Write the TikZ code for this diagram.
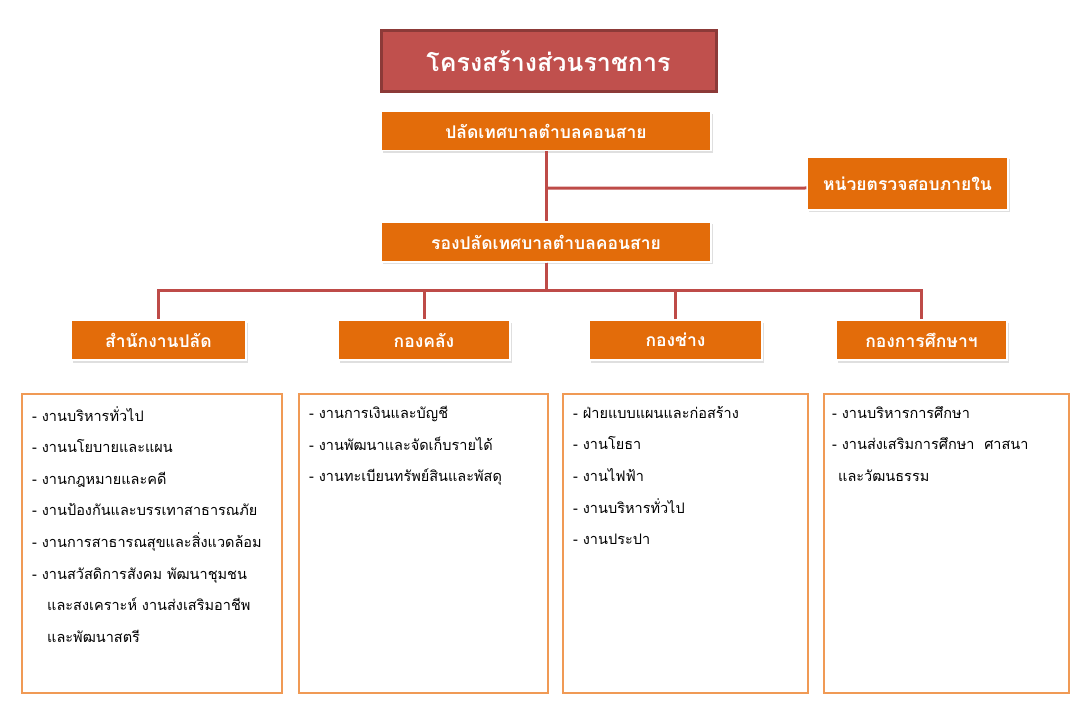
\documentclass[tikz,border=0pt]{standalone}
\usepackage{fontspec}
\newfontfamily\thaifont[Script=Thai]{Loma}
\usetikzlibrary{positioning, shadows}
\definecolor{titlered}{HTML}{C0504D}
\definecolor{titleedge}{HTML}{8C3A38}
\definecolor{unitorange}{HTML}{E36C0A}
\definecolor{listorange}{HTML}{F09A55}
\definecolor{linkred}{HTML}{BE4B48}
\tikzset{
  titlebox/.style={fill=titlered, draw=titleedge, line width=3pt, text=white,
      inner sep=0pt, font=\thaifont\bfseries\fontsize{25}{30}\selectfont},
  headbox/.style={fill=unitorange, draw=white, line width=1.5pt, text=white,
      inner sep=0pt, font=\thaifont\bfseries\fontsize{17.5}{20}\selectfont,
      drop shadow={opacity=0.25, shadow xshift=1.5pt, shadow yshift=-2.5pt}},
  listbox/.style={draw=listorange, line width=2.5pt, inner sep=0pt},
  listtext/.style={anchor=north west, inner sep=0pt, align=left,
      font=\thaifont\fontsize{14.5}{31.6}\selectfont,
      execute at begin node={\rule{0pt}{20pt}}},
  link/.style={draw=linkred, line width=3pt},
}
\begin{document}
\begin{tikzpicture}[x=1pt, y=-1pt]
      \useasboundingbox (0,0) rectangle (1089,727);

      \node [titlebox, minimum width=335pt, minimum height=61pt] (title) at (548.5,61.5)
      {โครงสร้างส่วนราชการ};

      \node [headbox, minimum width=330pt, minimum height=39pt] (chief) at (546,131)
      {ปลัดเทศบาลตำบลคอนสาย};
      \node [headbox, minimum width=201pt, minimum height=53pt] (audit) at (907.5,183.5)
      {หน่วยตรวจสอบภายใน};
      \node [headbox, minimum width=330pt, minimum height=40pt] (deputy) at (546,242)
      {รองปลัดเทศบาลตำบลคอนสาย};

      \node [headbox, minimum width=175pt, minimum height=40pt] (office) at (158.5,340) {สำนักงานปลัด};
      \node [headbox, minimum width=172pt, minimum height=40pt] (finance) at (424,340) {กองคลัง};
      \node [headbox, minimum width=173pt, minimum height=40pt] (works) at (675.5,340) {กองช่าง};
      \node [headbox, minimum width=171pt, minimum height=40pt] (edu) at (921.5,340) {กองการศึกษาฯ};

      \begin{scope}[on background layer/.try]
        \draw [link] (chief.south) -- (deputy.north);
        \draw [link] (chief.south) ++(0,37) -- (audit.west |- 0,188);
        \foreach \Unit in {office, finance, works, edu}{
            \draw [link] (deputy.south) -- ++(0,28) -| (\Unit.north);
          }
      \end{scope}

      \node [listbox, minimum width=260pt, minimum height=299pt] (officelist) at (152,543.5) {};
      \node [listbox, minimum width=249pt, minimum height=299pt] (financelist) at (423.5,543.5) {};
      \node [listbox, minimum width=245pt, minimum height=299pt] (workslist) at (685.5,543.5) {};
      \node [listbox, minimum width=245pt, minimum height=299pt] (edulist) at (946.5,543.5) {};

      \node [listtext] (officetext) at (32,406) {- งานบริหารทั่วไป\\
          - งานนโยบายและแผน\\
          - งานกฎหมายและคดี\\
          - งานป้องกันและบรรเทาสาธารณภัย\\
          - งานการสาธารณสุขและสิ่งแวดล้อม\\
          - งานสวัสดิการสังคม พัฒนาชุมชน\\
          \hspace*{15pt}และสงเคราะห์ งานส่งเสริมอาชีพ\\
          \hspace*{15pt}และพัฒนาสตรี};
      \node [listtext] (financetext) at (309,406) {- งานการเงินและบัญชี\\
          - งานพัฒนาและจัดเก็บรายได้\\
          - งานทะเบียนทรัพย์สินและพัสดุ};
      \node [listtext] (workstext) at (573,406) {- ฝ่ายแบบแผนและก่อสร้าง\\
          - งานโยธา\\
          - งานไฟฟ้า\\
          - งานบริหารทั่วไป\\
          - งานประปา};
      \node [listtext] (edutext) at (832,406) {- งานบริหารการศึกษา\\
          - งานส่งเสริมการศึกษา \ ศาสนา\\
          \hspace*{6pt}และวัฒนธรรม};
    \end{tikzpicture}
\end{document}
